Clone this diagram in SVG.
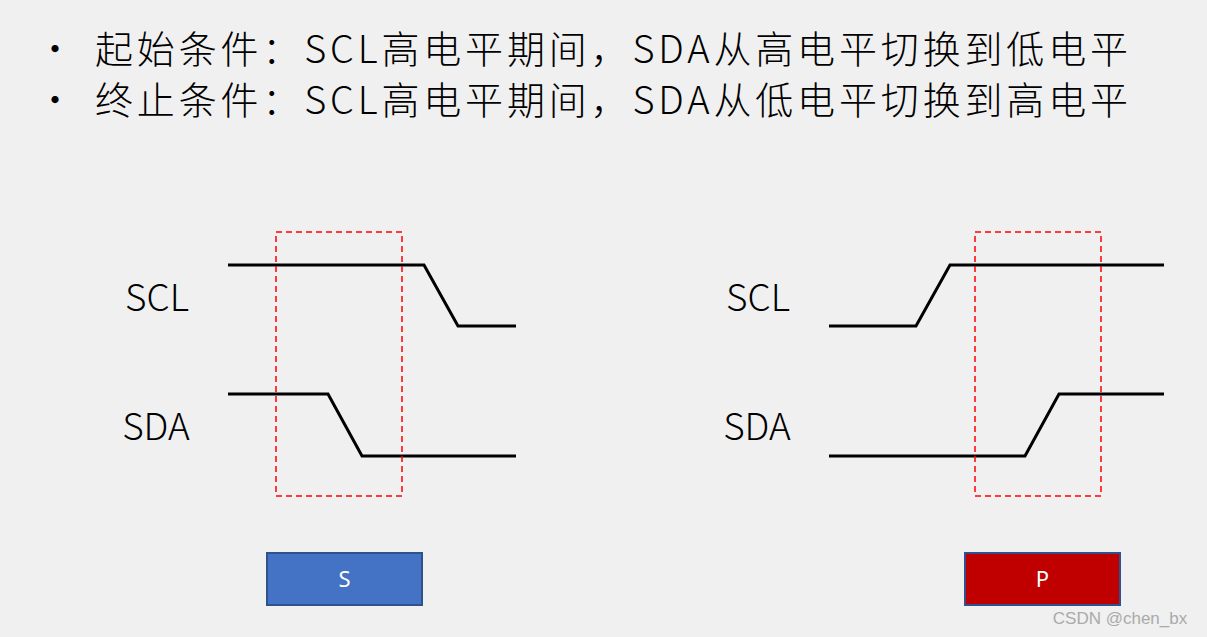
<svg xmlns="http://www.w3.org/2000/svg" width="1207" height="637" viewBox="0 0 1207 637">
<style>
.t{font-family:"Noto Sans CJK SC","Noto Sans",sans-serif;font-size:38px;font-weight:300;fill:#000}
.l{font-family:"Noto Sans CJK SC","Noto Sans",sans-serif;font-weight:300;font-size:37px;fill:#000;text-anchor:middle}
.w{fill:none;stroke:#000;stroke-width:3}
.d{fill:none;stroke:#ff0000;stroke-width:1.5;stroke-dasharray:6 4}
.b{font-family:"Noto Sans","Liberation Sans",sans-serif;font-size:22px;fill:#fff;text-anchor:middle}
</style>
<rect width="1207" height="637" fill="#f0f0f0"/>
<g id="title">
<text class="t" x="36" y="63" font-weight="700">•</text>
<text class="t" x="95" y="63" textLength="1033" lengthAdjust="spacing">起始条件：SCL高电平期间，SDA从高电平切换到低电平</text>
<text class="t" x="36" y="114" font-weight="700">•</text>
<text class="t" x="95" y="114" textLength="1033" lengthAdjust="spacing">终止条件：SCL高电平期间，SDA从低电平切换到高电平</text>
</g>
<g id="labels">
<text class="l" x="157" y="311">SCL</text>
<text class="l" x="156" y="440">SDA</text>
<text class="l" x="758" y="311">SCL</text>
<text class="l" x="757" y="440">SDA</text>
</g>
<g id="connectors">
<polyline class="w" points="228,265 424,265 458,326 516,326"/>
<polyline class="w" points="228,394 328,394 362,456 516,456"/>
<polyline class="w" points="829,326 916,326 950,265 1164,265"/>
<polyline class="w" points="829,456 1025,456 1059,394 1164,394"/>
</g>
<g id="windows">
<rect class="d" x="276" y="232" width="126" height="264"/>
<rect class="d" x="975" y="232" width="126" height="264"/>
</g>
<g id="S"><rect x="267" y="553" width="155" height="52" fill="#4472c4" stroke="#2f528f" stroke-width="2"/><text class="b" x="344.500" y="587">S</text></g>
<g id="P"><rect x="965" y="553" width="155" height="52" fill="#c00000" stroke="#2f528f" stroke-width="2"/><text class="b" x="1042.500" y="587">P</text></g>
<text x="1120" y="624" font-family="Liberation Sans,sans-serif" font-size="17" fill="#aaa" text-anchor="middle">CSDN @chen_bx</text>
</svg>
